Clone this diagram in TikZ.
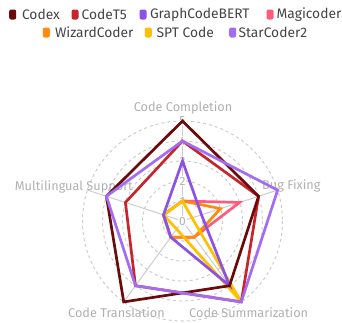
\documentclass[tikz,border=0pt]{standalone}
\usepackage{fontspec}
\setmainfont{Fira Sans}
\usetikzlibrary{calc}
\definecolor{cCodex}{HTML}{6B0A0A}
\definecolor{cTfive}{HTML}{C4262B}
\definecolor{cGCB}{HTML}{8C52E6}
\definecolor{cMagi}{HTML}{FF5C7C}
\definecolor{cWiz}{HTML}{FF8A0D}
\definecolor{cSPT}{HTML}{FFC000}
\definecolor{cStar}{HTML}{A36CF5}
\definecolor{gridgray}{HTML}{CCCCCC}
\definecolor{labgray}{HTML}{B0B0B0}
\definecolor{legtext}{HTML}{444444}
\newcommand{\rpoly}[6]{%
  \draw[series=#1] ($(C)+(-90:{20*#2})$) -- ($(C)+(-18:{20*#3})$) -- ($(C)+(54:{20*#4})$) -- ($(C)+(126:{20*#5})$) -- ($(C)+(198:{20*#6})$) -- cycle;}
\begin{document}
\begin{tikzpicture}[x=1pt,y=-1pt,
  series/.style={line width=2.7pt, line join=miter, draw=#1},
  legbox/.style={fill=#1, rounded corners=2pt, minimum width=7pt, minimum height=10pt, inner sep=0pt},
  legtxt/.style={anchor=west, inner sep=0pt, text=legtext, font=\fontsize{13.8}{16}\selectfont},
  axlab/.style={text=labgray, inner sep=0pt, font=\fontsize{12.7}{15}\selectfont},
  ticklab/.style={text=labgray, fill=white, inner sep=1pt, font=\fontsize{12}{14}\selectfont},
  gridcirc/.style={draw=gridgray, line width=1pt, dash pattern=on 3pt off 3pt},
  spoke/.style={draw=gridgray, line width=1pt}]
\useasboundingbox (0,0) rectangle (342,322);
\coordinate (C) at (182.5,221);
% grid
\foreach \r in {20,40,60,80,100} \draw[gridcirc] (C) circle[radius=\r];
\foreach \a in {-90,-18,54,126,198} \draw[spoke] (C) -- ($(C)+(\a:100)$);
\foreach \v in {0,...,5} \node[ticklab] (t\v) at ($(C)+(0,-20*\v)$) {\v};
% axis labels
\node[axlab] (lcc) at (183,108) {Code Completion};
\node[axlab, anchor=west] (lbf) at (262,186) {Bug Fixing};
\node[axlab, anchor=east] (lml) at (133,186.5) {Multilingual Support};
\node[axlab] (lct) at (116.5,313) {Code Translation};
\node[axlab] (lcs) at (248.7,313) {Code Summarization};
% series (bottom to top)
\rpoly{cMagi}{1}{3}{1}{1}{1}
\rpoly{cWiz}{1}{2}{1}{1}{1}
\rpoly{cSPT}{1}{0.5}{5}{0.5}{1}
\rpoly{cGCB}{3}{1}{4}{1}{1}
\rpoly{cTfive}{4}{4}{5}{4}{3}
\rpoly{cCodex}{5}{4}{4}{5}{4}
\rpoly{cStar}{4}{5}{5}{4}{4}
% legend
\node[legbox=cCodex] (m1) at (12.7,14.5) {};
\node[legtxt] (n1) at (21.8,14.5) {Codex};
\node[legbox=cTfive] (m2) at (75,14.5) {};
\node[legtxt] (n2) at (81.5,14.5) {CodeT5};
\node[legbox=cGCB] (m3) at (143,14.5) {};
\node[legtxt] (n3) at (149.8,14.5) {GraphCodeBERT};
\node[legbox=cMagi] (m4) at (270,14.5) {};
\node[legtxt] (n4) at (276.5,14.5) {Magicoder};
\node[legbox=cWiz] (m5) at (46.3,32.5) {};
\node[legtxt] (n5) at (54.8,32.5) {WizardCoder};
\node[legbox=cSPT] (m6) at (148.3,32.5) {};
\node[legtxt] (n6) at (156.5,32.5) {SPT Code};
\node[legbox=cStar] (m7) at (232.7,32.5) {};
\node[legtxt] (n7) at (238.3,32.5) {StarCoder2};
\end{tikzpicture}
\end{document}
